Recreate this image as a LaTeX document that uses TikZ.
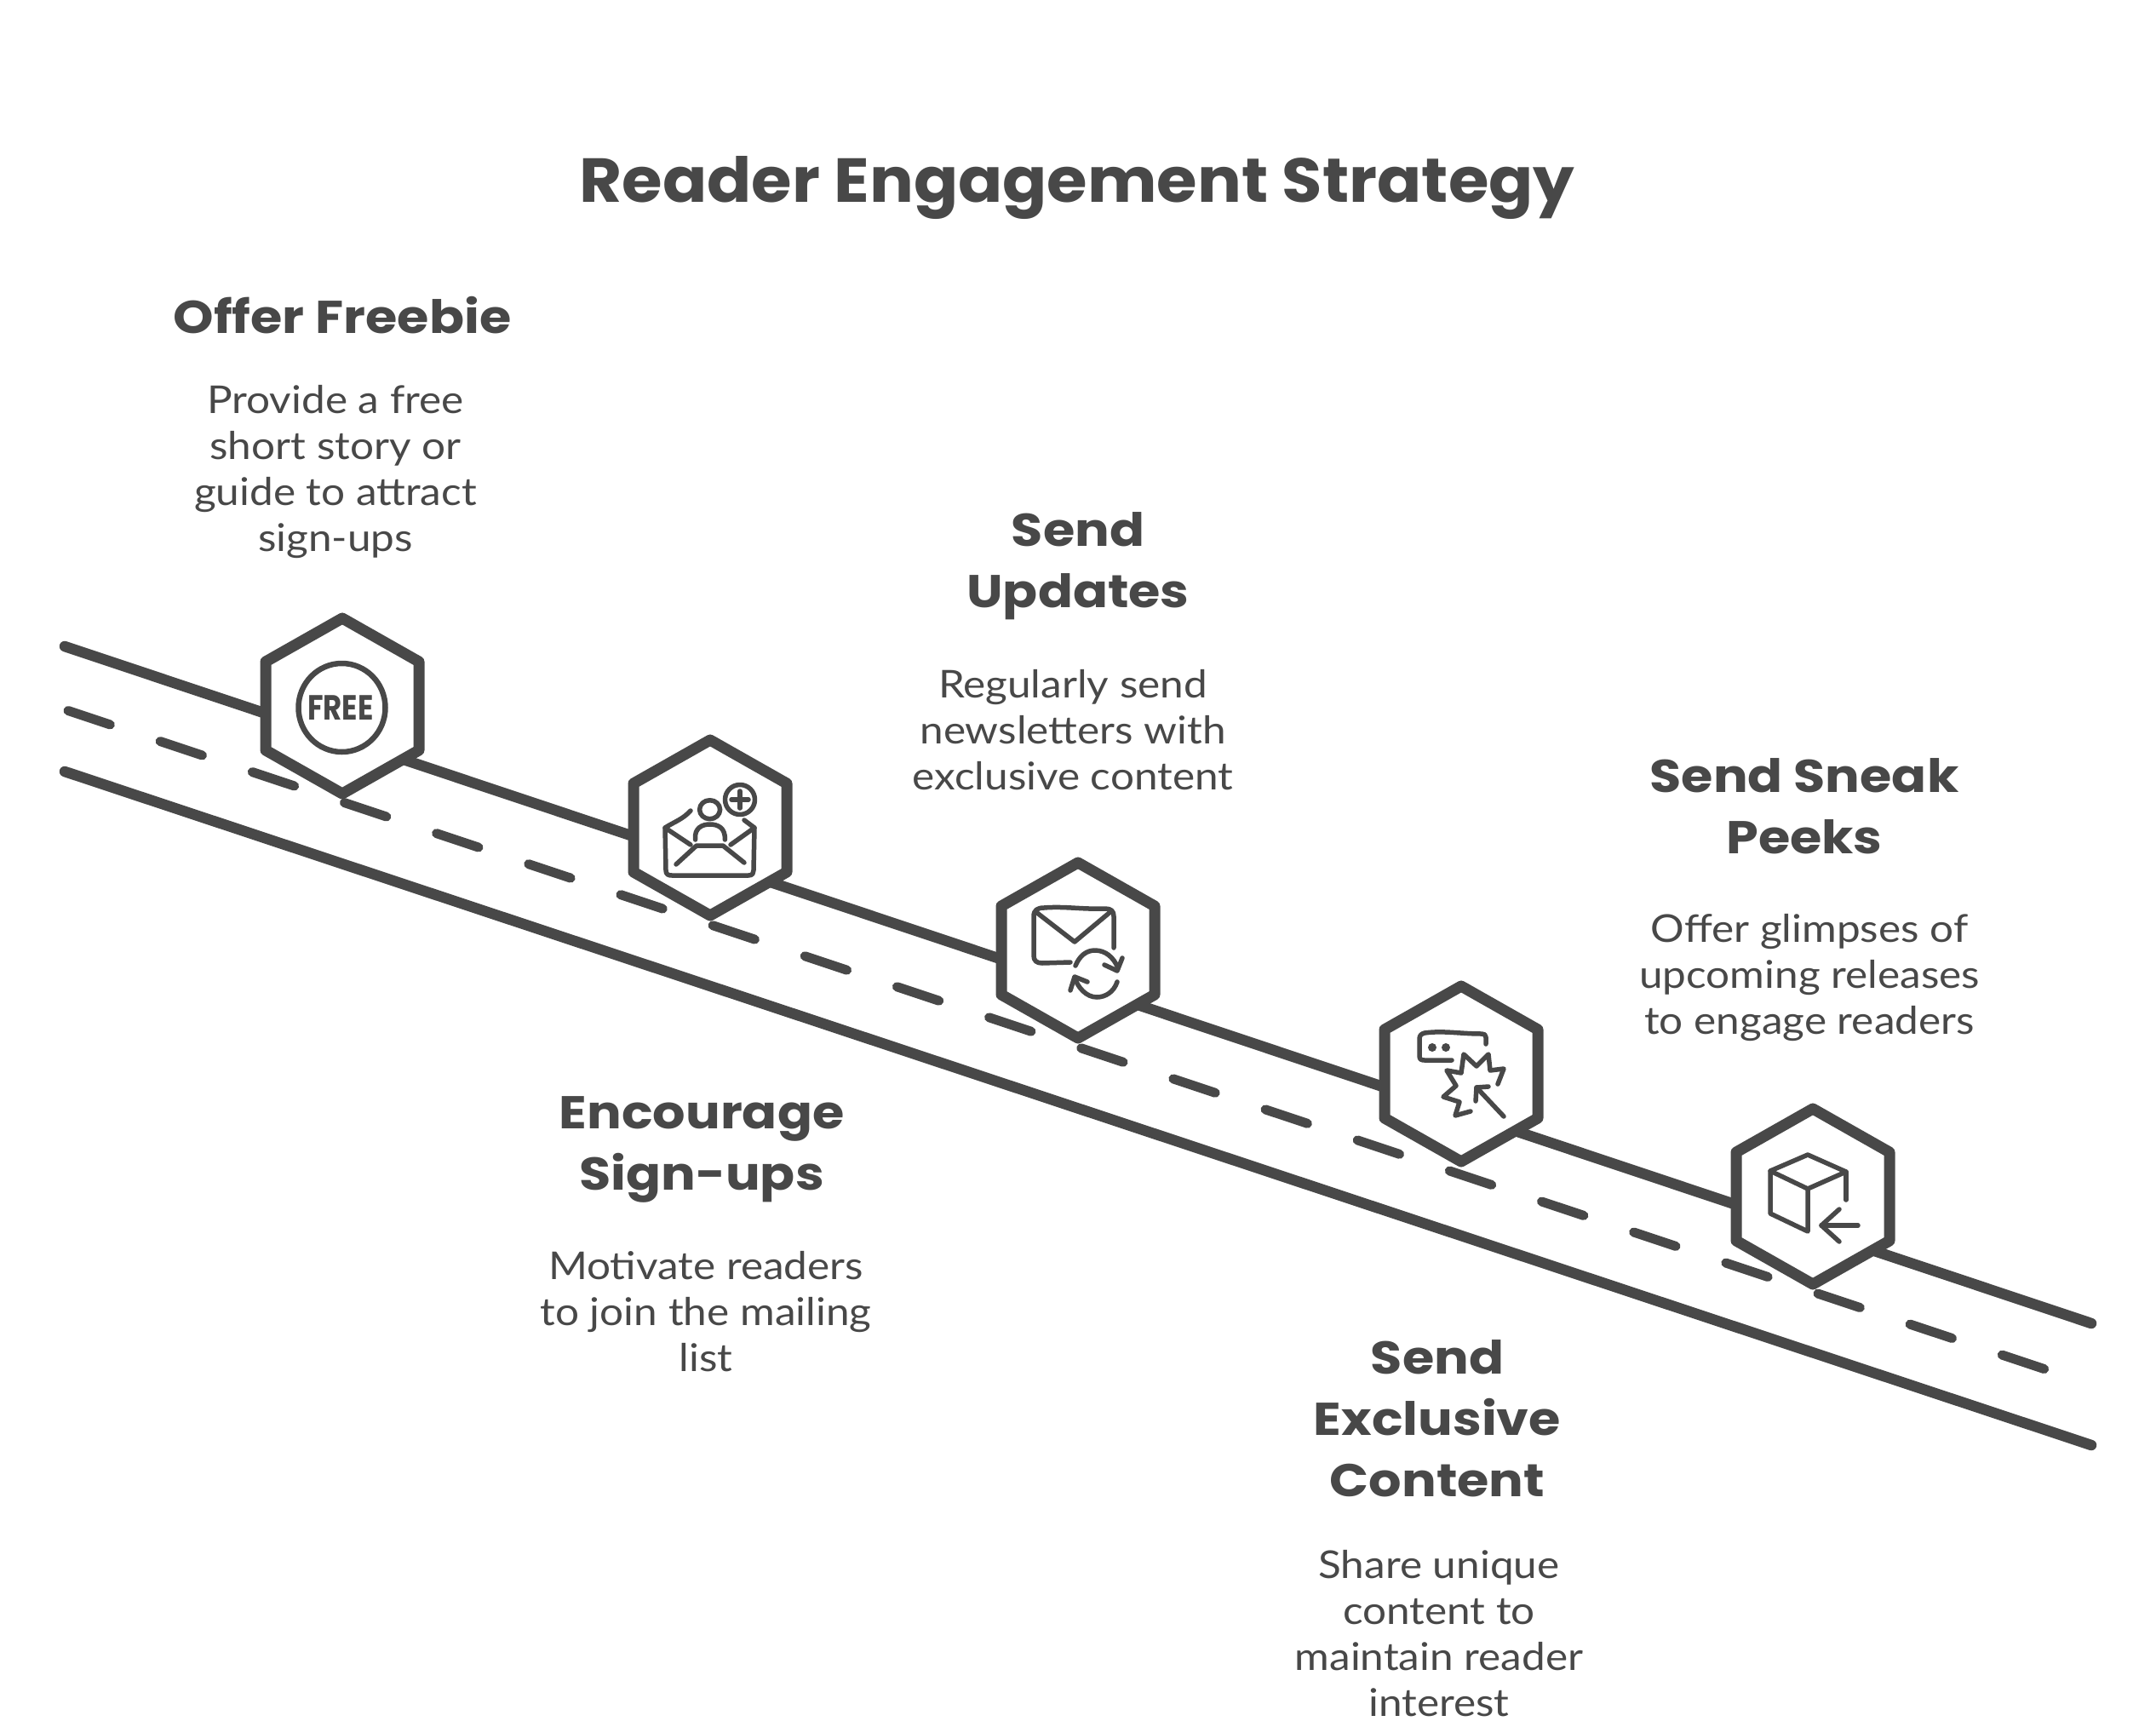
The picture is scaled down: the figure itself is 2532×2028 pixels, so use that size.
\documentclass[tikz,border=0pt]{standalone}
\usepackage{fontspec}
\setmainfont{Lato}[FakeStretch=1.1]
\newfontfamily\headfont{Poppins Bold}[FakeStretch=1.12]
\newfontfamily\titlefont{Poppins Bold}[FakeStretch=1.055]
\definecolor{ink}{HTML}{484848}
\tikzset{
  road/.style={draw=ink,line width=12.5pt,line cap=round},
  lane/.style={draw=ink,line width=11pt,line cap=round,dash pattern=on 52pt off 62pt},
  hexline/.style={draw=ink,fill=white,line width=13pt,line join=round},
  icon/.style={draw=ink,line width=5.5pt,line cap=round,line join=round},
  title/.style={text=ink,align=center,font=\titlefont\fontsize{73}{73}\selectfont},
  head/.style={text=ink,align=center,font=\headfont\fontsize{54}{72}\selectfont},
  body/.style={text=ink,align=center,font=\fontsize{45}{54}\selectfont},
}
\newcommand\hexat[1]{\draw[hexline] ([shift={(0,-103)}]#1) -- ([shift={(90,-52)}]#1) -- ([shift={(90,52)}]#1) -- ([shift={(0,103)}]#1) -- ([shift={(-90,52)}]#1) -- ([shift={(-90,-52)}]#1) -- cycle;}
\begin{document}
\begin{tikzpicture}[x=1pt,y=-1pt]
\useasboundingbox[fill=white] (0,0) rectangle (2532,2028);
\coordinate (topA) at (76,759);
\coordinate (topB) at (2456,1554);
\coordinate (botA) at (76,906);
\coordinate (botB) at (2456,1697);
\coordinate (midA) at (80,834.5);
\coordinate (midB) at (2402,1608);
\coordinate (h1) at (402,829);
\coordinate (h2) at (834,972);
\coordinate (h3) at (1266,1116);
\coordinate (h4) at (1716,1261);
\coordinate (h5) at (2129,1405);
\draw[road] (topA) -- (topB);
\draw[road] (botA) -- (botB);
\draw[lane] (midA) -- (midB);
\hexat{h1}\hexat{h2}\hexat{h3}\hexat{h4}\hexat{h5}
% icon 1
\draw[icon,line width=6.5pt] (401.5,831) ellipse [x radius=51,y radius=52];
\node[text=ink] (free) at (400,831) {\scalebox{.74}[1]{\headfont\fontsize{41}{41}\selectfont FREE}};
% icon 2
\draw[icon] (869,939) circle (17.5);
\draw[icon] (869,929) -- (869,949) (859,939) -- (879,939);
\draw[icon] (833.6,950.7) ellipse [x radius=12,y radius=11];
\draw[icon] (816.6,986) .. controls (815,972) and (825,968) .. (833.6,968) .. controls (843,968) and (852,972) .. (851.4,986);
\draw[icon] (811,952) .. controls (802,962) and (792,965) .. (781,972) -- (782,1022) .. controls (782,1027) and (785,1028) .. (789,1028) -- (879,1028) .. controls (884,1028) and (885,1025) .. (885,1022) -- (886,972) -- (874,963);
\draw[icon] (781,972) -- (811,992) (886,972) -- (858,992);
\draw[icon] (794,1015) -- (818,993) -- (849,993) -- (874,1013);
% icon 3
\draw[icon] (1257,1130) -- (1224,1131) .. controls (1217,1131) and (1214,1128) .. (1214,1122) -- (1214,1076) .. controls (1214,1069) and (1218,1066) .. (1226,1066) .. controls (1250,1064) and (1270,1068) .. (1298,1067) .. controls (1305,1067) and (1308,1070) .. (1308,1076) -- (1308,1113);
\draw[icon] (1218,1072) -- (1262,1106) -- (1305,1070);
\draw[icon] (1263,1134) .. controls (1268,1122) and (1276,1116) .. (1286,1116) .. controls (1298,1116) and (1308,1124) .. (1313,1137);
\draw[icon] (1318,1125) -- (1312,1140) -- (1297,1133);
\draw[icon] (1312,1153) .. controls (1308,1165) and (1298,1171) .. (1288,1171) .. controls (1276,1171) and (1266,1160) .. (1262,1148);
\draw[icon] (1257,1163) -- (1262,1147) -- (1277,1153);
% icon 4
\draw[icon] (1745,1226) -- (1745,1218) .. controls (1745,1215) and (1743,1214) .. (1740,1214) .. controls (1715,1214) and (1695,1210) .. (1673,1213) .. controls (1669,1214) and (1667,1216) .. (1667,1220) -- (1667,1240) .. controls (1667,1244) and (1669,1245) .. (1673,1245) -- (1705,1245);
\fill[ink] (1682,1230) ellipse [x radius=5,y radius=5] (1698,1230) ellipse [x radius=5,y radius=5];
\draw[icon] (1759,1273) -- (1766,1255) -- (1750,1257) -- (1748,1238) -- (1734,1252) -- (1719,1238) -- (1716,1260) -- (1699,1257) -- (1710,1275) -- (1695,1288) -- (1714,1294) -- (1709,1310) -- (1727,1305);
\draw[icon] (1766,1311) -- (1734,1277);
\draw[icon] (1748,1276) -- (1734,1277) -- (1733,1293);
% icon 5
\draw[icon] (2123,1356) -- (2168,1376) -- (2123,1396) -- (2079,1375) -- cycle;
\draw[icon] (2079,1375) -- (2079,1425) -- (2123,1446) -- (2123,1396);
\draw[icon] (2168,1376) -- (2168,1409);
\draw[icon] (2182,1439) -- (2139,1439);
\draw[icon] (2160,1420) -- (2139,1439) -- (2160,1458);
% text
\node[title] (t) at (1265,221) {Reader Engagement Strategy};
\node[head] (a1) at (402,370) {Offer Freebie};
\node[body] (a2) at (394,554) {Provide a free\\short story or\\guide to attract\\sign-ups};
\node[head] (b1) at (1266,665) {Send\\Updates};
\node[body] (b2) at (1260,857) {Regularly send\\newsletters with\\exclusive content};
\node[head] (c1) at (2119,947) {Send Sneak\\Peeks};
\node[body] (c2) at (2125,1148) {Offer glimpses of\\upcoming releases\\to engage readers};
\node[head] (d1) at (824,1350) {Encourage\\Sign-ups};
\node[body] (d2) at (829,1540) {Motivate readers\\to join the mailing\\list};
\node[head] (e1) at (1688,1666) {Send\\Exclusive\\Content};
\node[body] (e2) at (1690,1918) {Share unique\\content to\\maintain reader\\interest};
\end{tikzpicture}
\end{document}
